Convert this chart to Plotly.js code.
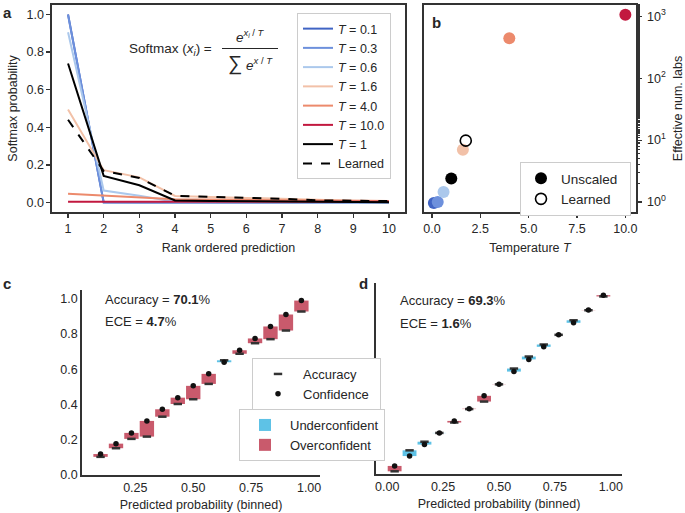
<!DOCTYPE html>
<html>
<head>
<meta charset="utf-8">
<script src="https://cdn.plot.ly/plotly-3.0.1.min.js"></script>
<style>
  html, body { margin: 0; padding: 0; background: #fff; }
  #fig { width: 685px; height: 513px; }
</style>
</head>
<body>
<div id="fig"></div>
<script>
// ---- panel a: softmax probability by rank ----
const ranks = [1, 2, 3, 4, 5, 6, 7, 8, 9, 10];
const temps = ["0.1", "0.3", "0.6", "1.6", "4.0", "10.0"];
const tempColors = ["#4064c4", "#6d90dc", "#abc8ec", "#f2c1a8", "#ec8a6c", "#c2183f"];
const probT01 = [1.0, 0.0, 0.0, 0.0, 0.0, 0.0, 0.0, 0.0, 0.0, 0.0];
const probT03 = [0.997, 0.002, 0.001, 0.0, 0.0, 0.0, 0.0, 0.0, 0.0, 0.0];
const probT06 = [0.905, 0.064, 0.036, 0.005, 0.004, 0.003, 0.002, 0.002, 0.001, 0.001];
const probT16 = [0.495, 0.172, 0.134, 0.035, 0.03, 0.025, 0.02, 0.012, 0.01, 0.008];
const probT40 = [0.047, 0.037, 0.029, 0.018, 0.016, 0.014, 0.012, 0.011, 0.01, 0.009];
const probT10 = [0.005, 0.005, 0.005, 0.005, 0.005, 0.005, 0.005, 0.005, 0.005, 0.005];
const probT1 = [0.739, 0.142, 0.092, 0.011, 0.009, 0.007, 0.005, 0.004, 0.003, 0.002];
const probLearned = [0.44, 0.168, 0.131, 0.036, 0.031, 0.026, 0.02, 0.012, 0.01, 0.008];

// ---- panel b: effective number of labels vs temperature ----
const tempVals = [0.1, 0.3, 0.6, 1.6, 4.0, 10.0];
const effLabels = [0.97, 1.0, 1.45, 7.0, 440, 1050];
const unscaledT = [1.0];
const unscaledEff = [2.4];
const learnedT = [1.75];
const learnedEff = [9.8];

// ---- panels c, d: reliability diagrams (15 bins) ----
const binsC = [0.1, 0.1667, 0.2333, 0.3, 0.3667, 0.4333, 0.5, 0.5667, 0.6333, 0.7, 0.7667, 0.8333, 0.9, 0.9667];
const accC = [0.103, 0.152, 0.205, 0.218, 0.331, 0.403, 0.43, 0.517, 0.651, 0.688, 0.748, 0.771, 0.82, 0.928];
const confC = [0.119, 0.178, 0.239, 0.307, 0.373, 0.439, 0.506, 0.574, 0.64, 0.708, 0.775, 0.843, 0.911, 0.99];
const binsD = [0.0333, 0.1, 0.1667, 0.2333, 0.3, 0.3667, 0.4333, 0.5, 0.5667, 0.6333, 0.7, 0.7667, 0.8333, 0.9, 0.9667];
const accD = [0.015, 0.132, 0.18, 0.229, 0.287, 0.362, 0.404, 0.5, 0.588, 0.655, 0.722, 0.776, 0.857, 0.913, 0.99];
const confD = [0.045, 0.1, 0.164, 0.228, 0.296, 0.364, 0.436, 0.501, 0.571, 0.639, 0.709, 0.776, 0.843, 0.914, 0.997];

const FONT = "Liberation Sans, Arial, sans-serif";
const INK = "#262626";
const SPINE = "#333333";
const RED = "#c95a6c";
const BLUE = "#5ec2e6";

const px = v => v / 685;
const py = v => 1 - v / 513;

let traces = [];

// panel a lines
const tempProbs = [probT01, probT03, probT06, probT16, probT40, probT10];
tempProbs.forEach((p, i) => {
  traces.push({
    x: ranks, y: p, type: "scatter", mode: "lines",
    name: "<i>T</i> = " + temps[i],
    line: {color: tempColors[i], width: 2},
    xaxis: "x", yaxis: "y", legend: "legend"
  });
});
traces.push({x: ranks, y: probT1, type: "scatter", mode: "lines", name: "<i>T</i> = 1",
  line: {color: "#000", width: 2}, xaxis: "x", yaxis: "y", legend: "legend"});
traces.push({x: ranks, y: probLearned, type: "scatter", mode: "lines", name: "Learned",
  line: {color: "#000", width: 2, dash: "dash"}, xaxis: "x", yaxis: "y", legend: "legend"});

// panel b points
traces.push({x: tempVals, y: effLabels, type: "scatter", mode: "markers", showlegend: false,
  marker: {color: tempColors, size: 12}, xaxis: "x2", yaxis: "y2"});
traces.push({x: unscaledT, y: unscaledEff, type: "scatter", mode: "markers", name: "Unscaled  ",
  marker: {color: "#000", size: 12}, xaxis: "x2", yaxis: "y2", legend: "legend2"});
traces.push({x: learnedT, y: learnedEff, type: "scatter", mode: "markers", name: "Learned",
  marker: {color: "#000", size: 11, symbol: "circle-open", line: {width: 1.6, color: "#000"}},
  xaxis: "x2", yaxis: "y2", legend: "legend2"});

// panels c and d boxes
function reliability(bins, acc, conf, xa, ya, showLeg) {
  let over = {x: [], base: [], y: []};
  let under = {x: [], base: [], y: []};
  bins.forEach((b, i) => {
    if (conf[i] >= acc[i]) {
      over.x.push(b); over.base.push(acc[i]); over.y.push(conf[i] - acc[i]);
    } else {
      under.x.push(b); under.base.push(conf[i]); under.y.push(acc[i] - conf[i]);
    }
  });
  traces.push({type: "bar", x: under.x, y: under.y, base: under.base, width: 0.062,
    marker: {color: BLUE, line: {width: 0}}, name: "Underconfident",
    showlegend: showLeg, legend: "legend4", xaxis: xa, yaxis: ya});
  traces.push({type: "bar", x: over.x, y: over.y, base: over.base, width: 0.062,
    marker: {color: RED, line: {width: 0}}, name: "Overconfident",
    showlegend: showLeg, legend: "legend4", xaxis: xa, yaxis: ya});
  traces.push({type: "scatter", mode: "markers", x: bins, y: acc, name: "Accuracy     ",
    marker: {symbol: "line-ew", size: 6, line: {width: 2.5, color: "#333"}},
    showlegend: showLeg, legend: "legend3", xaxis: xa, yaxis: ya});
  traces.push({type: "scatter", mode: "markers", x: bins, y: conf, name: "Confidence",
    marker: {symbol: "circle", size: 5.5, color: "#111"},
    showlegend: showLeg, legend: "legend3", xaxis: xa, yaxis: ya});
}
reliability(binsC, accC, confC, "x3", "y3", true);
reliability(binsD, accD, confD, "x4", "y4", false);

const tickFont = {family: FONT, size: 12.5, color: INK};
const titleFont = {family: FONT, size: 12.5, color: INK};

const boxAxis = {
  showline: true, mirror: true, linecolor: SPINE, linewidth: 1.6,
  ticks: "outside", ticklen: 4, tickwidth: 1.2, tickcolor: SPINE,
  showgrid: false, zeroline: false, tickfont: tickFont, automargin: false
};
const openAxis = {
  showline: true, mirror: false, linecolor: SPINE, linewidth: 1.8,
  ticks: "", showgrid: false, zeroline: false, tickfont: tickFont, automargin: false
};

const layout = {
  width: 685, height: 513,
  margin: {l: 0, r: 0, t: 0, b: 0},
  paper_bgcolor: "#fff", plot_bgcolor: "#fff",
  font: {family: FONT, color: INK},
  barmode: "overlay",
  xaxis: Object.assign({}, boxAxis, {
    domain: [px(52), px(405)], anchor: "y", range: [0.55, 10.45], tickvals: ranks,
    title: {text: "Rank ordered prediction", font: titleFont, standoff: 8}
  }),
  yaxis: Object.assign({}, boxAxis, {
    domain: [py(212), py(5)], anchor: "x", range: [-0.05, 1.05], dtick: 0.2, tickformat: ".1f",
    title: {text: "Softmax probability", font: titleFont, standoff: 6}
  }),
  xaxis2: Object.assign({}, boxAxis, {
    domain: [px(424), px(636)], anchor: "y2", range: [-0.41, 10.55],
    tickvals: [0, 2.5, 5, 7.5, 10], ticktext: ["0.0", "2.5", "5.0", "7.5", "10.0"],
    title: {text: "Temperature <i>T</i>", font: titleFont, standoff: 8}
  }),
  yaxis2: Object.assign({}, boxAxis, {
    domain: [py(212), py(5)], anchor: "x2", side: "right", type: "log", range: [-0.16, 3.18],
    tickvals: [1, 10, 100, 1000],
    ticktext: ["10<sup>0</sup>", "10<sup>1</sup>", "10<sup>2</sup>", "10<sup>3</sup>"],
    ticklabelstandoff: 3,
    minor: {ticks: "outside", ticklen: 2.5, tickcolor: SPINE, showgrid: false},
    title: {text: "Effective num. labs", font: titleFont, standoff: 14}
  }),
  xaxis3: Object.assign({}, openAxis, {
    domain: [px(82), px(320)], anchor: "y3", range: [0.02, 1.047],
    tickvals: [0.25, 0.5, 0.75, 1.0], ticktext: ["0.25", "0.50", "0.75", "1.00"],
    title: {text: "Predicted probability (binned)", font: titleFont, standoff: 6}
  }),
  yaxis3: Object.assign({}, openAxis, {
    domain: [py(475), py(290)], anchor: "x3", range: [0, 1.05], dtick: 0.2, tickformat: ".1f"
  }),
  xaxis4: Object.assign({}, openAxis, {
    domain: [px(376), px(622)], anchor: "y4", range: [-0.05, 1.05],
    tickvals: [0, 0.25, 0.5, 0.75, 1.0], ticktext: ["0.00", "0.25", "0.50", "0.75", "1.00"],
    title: {text: "Predicted probability (binned)", font: titleFont, standoff: 6}
  }),
  yaxis4: Object.assign({}, openAxis, {
    domain: [py(474), py(283)], anchor: "x4", range: [0, 1.065], showticklabels: false
  }),
  legend: {
    x: px(297), y: py(13), xanchor: "left", yanchor: "top",
    bgcolor: "#fff", bordercolor: "#cccccc", borderwidth: 1,
    font: {family: FONT, size: 12.5, color: INK}, itemwidth: 30, tracegroupgap: 0
  },
  legend2: {
    x: px(520), y: py(162), xanchor: "left", yanchor: "top",
    bgcolor: "#fff", bordercolor: "#cccccc", borderwidth: 1,
    font: {family: FONT, size: 13.5, color: INK}, itemwidth: 30
  },
  legend3: {
    x: px(252), y: py(358), xanchor: "left", yanchor: "top",
    bgcolor: "#fff", bordercolor: "#cccccc", borderwidth: 1,
    font: {family: FONT, size: 13, color: INK}, itemwidth: 40
  },
  legend4: {
    x: px(239), y: py(409), xanchor: "left", yanchor: "top",
    bgcolor: "#fff", bordercolor: "#cccccc", borderwidth: 1,
    font: {family: FONT, size: 13, color: INK}, itemwidth: 40
  },
  shapes: [
    // fraction bar of the softmax formula
    {type: "line", xref: "paper", yref: "paper", x0: px(222), x1: px(278), y0: py(48.5), y1: py(48.5),
     line: {color: INK, width: 1}}
  ],
  annotations: [
    {text: "<b>a</b>", x: px(1), y: py(2), xanchor: "left", yanchor: "top", font: {size: 15}},
    {text: "<b>b</b>", x: px(430), y: py(12), xanchor: "left", yanchor: "top", font: {size: 15}},
    {text: "<b>c</b>", x: px(1), y: py(273), xanchor: "left", yanchor: "top", font: {size: 15}},
    {text: "<b>d</b>", x: px(357), y: py(273), xanchor: "left", yanchor: "top", font: {size: 15}},
    {text: "Softmax (<i>x<sub>i</sub></i>) =", x: px(214), y: py(49), xanchor: "right", yanchor: "middle", font: {size: 13.5}},
    {text: "<i>e</i><sup><i>x<sub>i</sub></i> / <i>T</i></sup>", x: px(250), y: py(47), xanchor: "center", yanchor: "bottom", font: {size: 13.5}},
    {text: "<span style='font-size:20px'>∑</span> <i>e</i><sup><i>x</i> / <i>T</i></sup>", x: px(250), y: py(50), xanchor: "center", yanchor: "top", font: {size: 13.5}},
    {text: "Accuracy = <b>70.1</b>%", x: px(103), y: py(299), xanchor: "left", yanchor: "middle", font: {size: 13}},
    {text: "ECE = <b>4.7</b>%", x: px(103), y: py(321), xanchor: "left", yanchor: "middle", font: {size: 13}},
    {text: "Accuracy = <b>69.3</b>%", x: px(398), y: py(300), xanchor: "left", yanchor: "middle", font: {size: 13}},
    {text: "ECE = <b>1.6</b>%", x: px(398), y: py(323), xanchor: "left", yanchor: "middle", font: {size: 13}}
  ].map(a => Object.assign({xref: "paper", yref: "paper", showarrow: false}, a,
    {font: Object.assign({family: FONT, color: INK}, a.font)}))
};

Plotly.newPlot("fig", traces, layout, {staticPlot: true});
</script>
</body>
</html>
